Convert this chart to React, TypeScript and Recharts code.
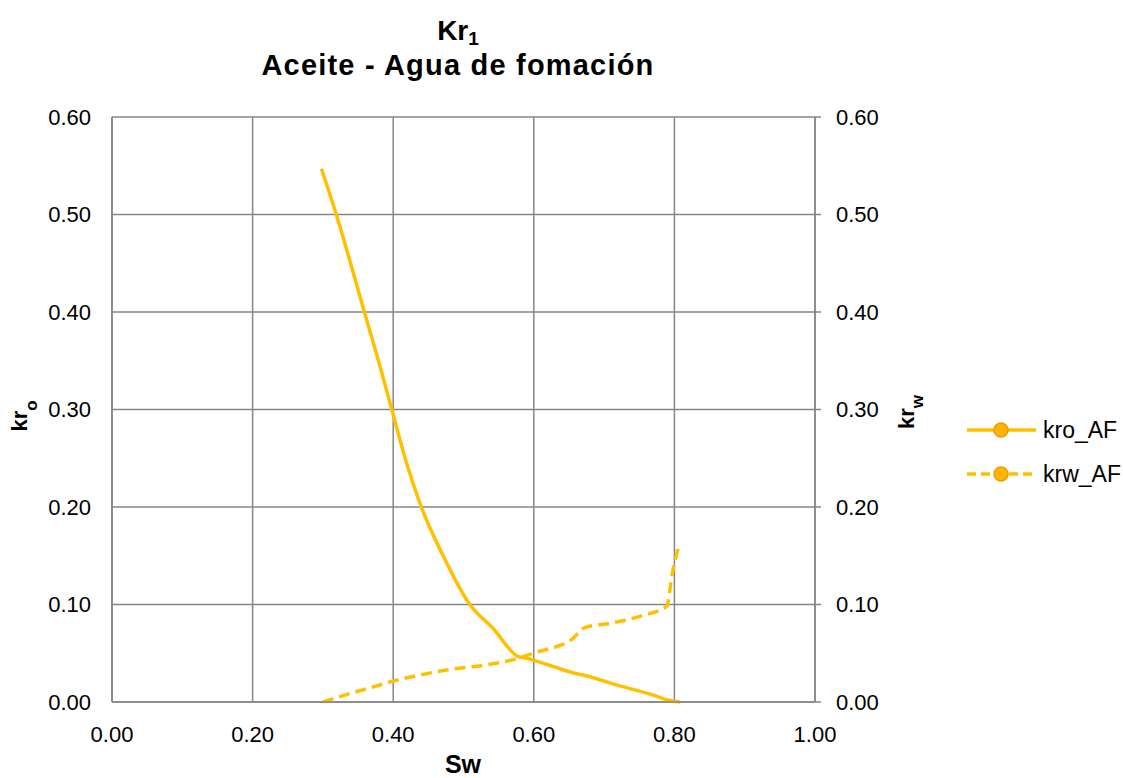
import React from 'react';
import { LineChart, Line, XAxis, YAxis, CartesianGrid, Legend } from 'recharts';

// Sw / kr pairs
const kroSw = [0.298, 0.319, 0.359, 0.379, 0.398, 0.417, 0.44, 0.471, 0.509, 0.542, 0.578, 0.59, 0.599, 0.628, 0.661, 0.67, 0.72, 0.77, 0.79, 0.808];
const kroValues = [0.547, 0.5, 0.4, 0.35, 0.3, 0.25, 0.2, 0.15, 0.1, 0.0756, 0.0465, 0.0448, 0.043, 0.0362, 0.029, 0.0277, 0.017, 0.007, 0.002, 0];

const krwSw = [0.3, 0.34, 0.381, 0.4, 0.44, 0.476, 0.54, 0.578, 0.599, 0.656, 0.67, 0.713, 0.756, 0.789, 0.797, 0.807];
const krwValues = [0, 0.009, 0.0174, 0.0215, 0.028, 0.0328, 0.039, 0.0448, 0.05, 0.0653, 0.0756, 0.0813, 0.089, 0.098, 0.132, 0.162];

const xTicks = [0, 0.2, 0.4, 0.6, 0.8, 1.0];
const yTicks = [0, 0.1, 0.2, 0.3, 0.4, 0.5, 0.6];

const seriesNames = ['kro_AF', 'krw_AF'];

const GOLD = '#FFC000';
const GRID = '#868686';
const FONT = '"Liberation Sans", Arial, sans-serif';

// merge both series on one Sw column
const table = (() => {
  const rows: Record<number, any> = {};
  kroSw.forEach((s, i) => {
    rows[s] = { ...(rows[s] || { sw: s }), kro: kroValues[i] };
  });
  krwSw.forEach((s, i) => {
    rows[s] = { ...(rows[s] || { sw: s }), krw: krwValues[i] };
  });
  return Object.values(rows).sort((a: any, b: any) => a.sw - b.sw);
})();

const fmt = (v: number) => v.toFixed(2);

const LeftLabel = () => (
  <text x={27} y={416} transform="rotate(-90, 27, 416)" textAnchor="middle" fontFamily={FONT} fontWeight="bold" fontSize={22} fill="#000">
    kr<tspan dy={10} fontSize={17}>o</tspan>
  </text>
);

const RightLabel = () => (
  <text x={914} y={412} transform="rotate(-90, 914, 412)" textAnchor="middle" fontFamily={FONT} fontWeight="bold" fontSize={22} fill="#000">
    kr<tspan dy={9} fontSize={17}>w</tspan>
  </text>
);

const BottomLabel = () => (
  <text x={463} y={773} textAnchor="middle" fontFamily={FONT} fontWeight="bold" fontSize={25} fill="#000">
    Sw
  </text>
);

const renderLegend = () => (
  <div style={{ fontFamily: FONT, fontSize: 23, color: '#000' }}>
    {seriesNames.map((name, i) => (
      <div key={name} style={{ display: 'flex', alignItems: 'center', height: 44 }}>
        <svg width={76} height={20} style={{ display: 'block' }}>
          <line x1={0} y1={10} x2={69} y2={10} stroke={GOLD} strokeWidth={3.5} strokeDasharray={i === 1 ? '9 5' : undefined} />
          <circle cx={34} cy={10} r={7} fill="#FFB400" stroke="#F29A00" strokeWidth={1.5} />
        </svg>
        <span>{name}</span>
      </div>
    ))}
  </div>
);

export default function App() {
  return (
    <div style={{ position: 'absolute', left: 0, top: 0, width: 1123, height: 778, background: '#fff' }}>
      <div style={{ position: 'absolute', left: 0, width: 916, top: 17, textAlign: 'center', fontFamily: FONT, fontWeight: 'bold', fontSize: 28, lineHeight: '28px' }}>
        Kr<span style={{ fontSize: 19, position: 'relative', top: 5 }}>1</span>
      </div>
      <div style={{ position: 'absolute', left: 0, width: 916, top: 51, textAlign: 'center', fontFamily: FONT, fontWeight: 'bold', fontSize: 29, lineHeight: '28px', letterSpacing: 1.2 }}>
        Aceite - Agua de fomación
      </div>
      <LineChart width={1123} height={778} data={table} margin={{ top: 117, right: 0, bottom: 0, left: 0 }}>
        <CartesianGrid stroke={GRID} strokeWidth={1.5} yAxisId="left" />
        <XAxis
          dataKey="sw"
          type="number"
          domain={[0, 1]}
          ticks={xTicks}
          tickFormatter={fmt}
          height={76}
          axisLine={{ stroke: GRID, strokeWidth: 1.5 }}
          tickLine={false}
          tickSize={6}
          tickMargin={18}
          tick={{ fill: '#000', fontSize: 22, fontFamily: FONT }}
          label={<BottomLabel />}
        />
        <YAxis
          yAxisId="left"
          domain={[0, 0.6]}
          ticks={yTicks}
          tickFormatter={fmt}
          width={112}
          axisLine={{ stroke: GRID, strokeWidth: 1.5 }}
          tickLine={false}
          tickSize={6}
          tickMargin={15}
          tick={{ fill: '#000', fontSize: 22, fontFamily: FONT }}
          label={<LeftLabel />}
        />
        <YAxis
          yAxisId="right"
          orientation="right"
          domain={[0, 0.6]}
          ticks={yTicks}
          tickFormatter={fmt}
          width={308}
          axisLine={{ stroke: GRID, strokeWidth: 1.5 }}
          tickLine={{ stroke: GRID, strokeWidth: 1.5 }}
          tickSize={6}
          tickMargin={15}
          tick={{ fill: '#000', fontSize: 22, fontFamily: FONT, textAnchor: 'start' }}
          label={<RightLabel />}
        />
        <Line
          yAxisId="left"
          type="monotone"
          dataKey="kro"
          name={seriesNames[0]}
          stroke={GOLD}
          strokeWidth={3.5}
          dot={false}
          connectNulls
          isAnimationActive={false}
        />
        <Line
          yAxisId="right"
          type="monotone"
          dataKey="krw"
          name={seriesNames[1]}
          stroke={GOLD}
          strokeWidth={3.5}
          strokeDasharray="11 6"
          dot={false}
          connectNulls
          isAnimationActive={false}
        />
        <Legend
          layout="vertical"
          align="center"
          verticalAlign="middle"
          wrapperStyle={{ left: 967, top: 408, width: 156 }}
          content={renderLegend}
        />
      </LineChart>
    </div>
  );
}
